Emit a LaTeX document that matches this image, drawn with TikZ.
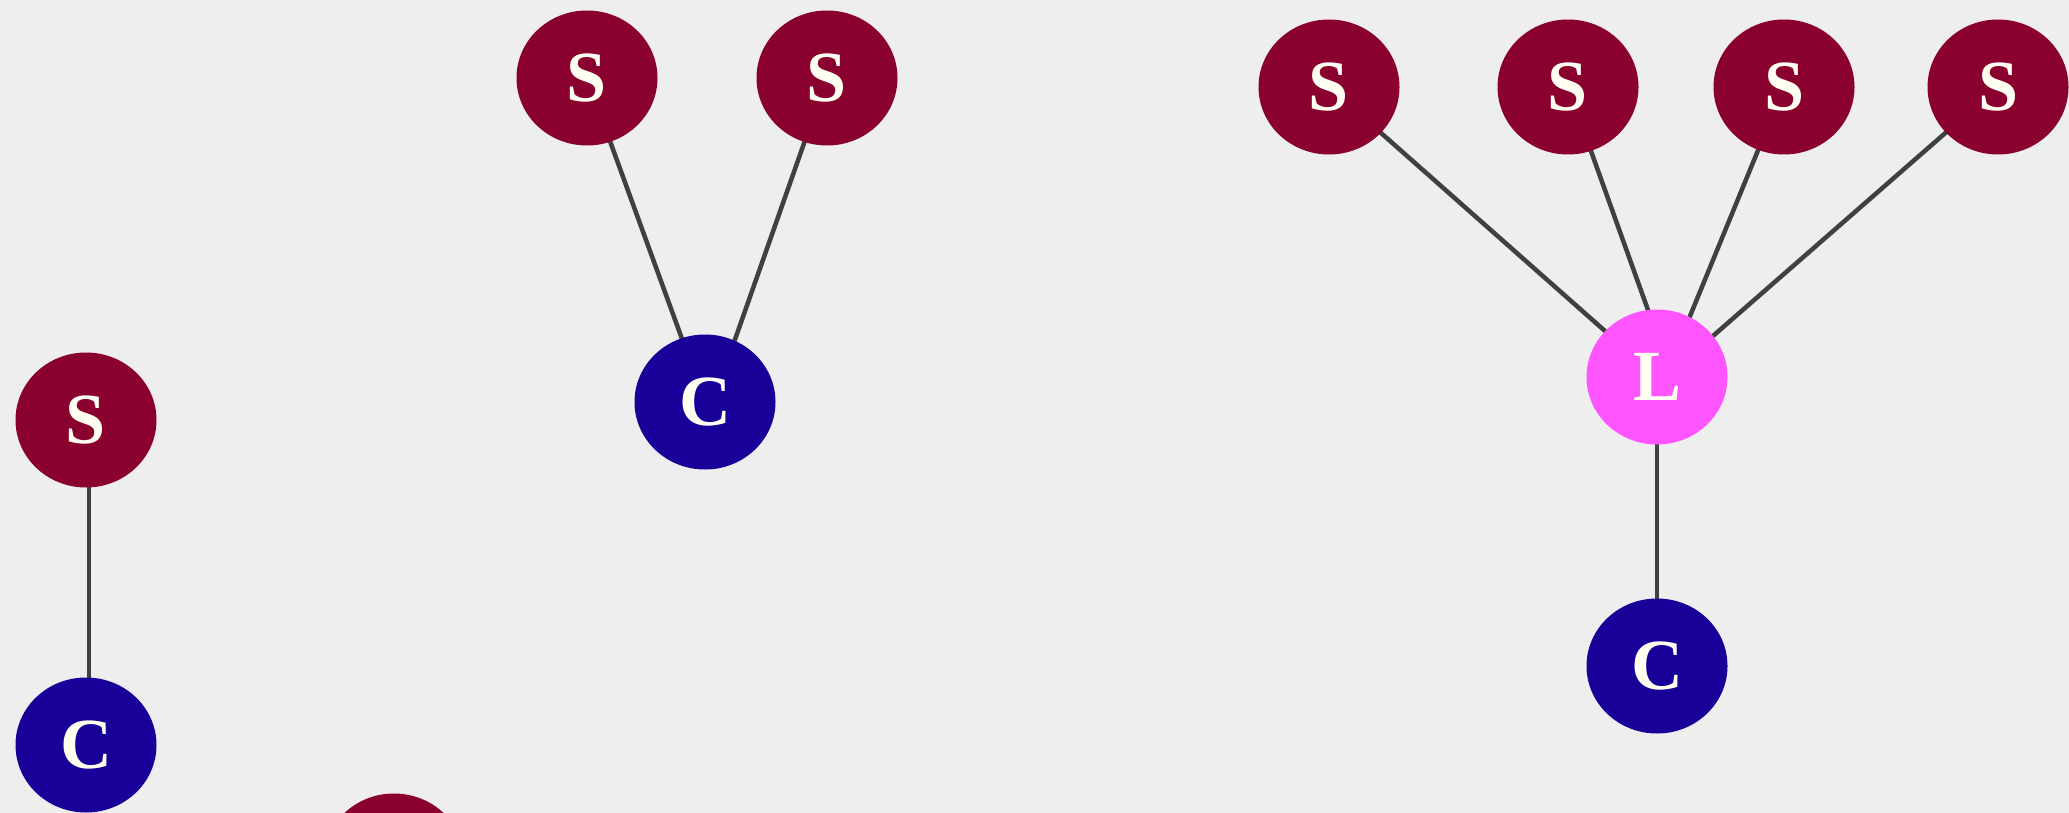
\documentclass[tikz,border=0pt]{standalone}
\usepackage{fontspec}
\newfontfamily\lblfont{Liberation Serif}[BoldFont={Liberation Serif Bold}]
\usetikzlibrary{shapes.geometric}
\pgfdeclarelayer{edges}
\pgfsetlayers{edges,main}
\definecolor{bg}{HTML}{EEEEEE}
\definecolor{scol}{HTML}{8A002F}
\definecolor{ccol}{HTML}{1A0099}
\definecolor{lcol}{HTML}{FF55FF}
\definecolor{txt}{HTML}{FFFFF2}
\definecolor{edge}{HTML}{404040}
\tikzset{
  vert/.style={ellipse, minimum width=141pt, minimum height=135pt, inner sep=0pt,
    text=txt, font=\lblfont\bfseries\fontsize{72}{72}\selectfont},
  snode/.style={vert, fill=scol},
  cnode/.style={vert, fill=ccol},
  lnode/.style={vert, fill=lcol},
  link/.style={draw=edge, line width=4.5pt}
}
\begin{document}
\begin{tikzpicture}[x=1pt,y=-1pt]
\begin{pgfonlayer}{edges}
\fill[bg] (0,0) rectangle (2069,813);
\end{pgfonlayer}
\useasboundingbox (0,0) rectangle (2069,813);
% left group
\node[snode] (s1) at (86,420) {S};
\node[cnode] (c1) at (86,745) {C};
\node[snode] (s0) at (394,861) {};
% middle group
\node[snode] (s2) at (587,78) {S};
\node[snode] (s3) at (827,78) {S};
\node[cnode] (c2) at (705,402) {C};
% right group
\node[snode] (s4) at (1329,87) {S};
\node[snode] (s5) at (1568,87) {S};
\node[snode] (s6) at (1784,87) {S};
\node[snode] (s7) at (1998,87) {S};
\node[lnode] (l1) at (1657,377) {L};
\node[cnode] (c3) at (1657,666) {C};
\begin{pgfonlayer}{edges}
\draw[link] ([xshift=3pt]s1.center) -- ([xshift=3pt]c1.center);
\draw[link] (s2.center) -- (c2.center);
\draw[link] (s3.center) -- ([xshift=8pt]c2.center);
\draw[link] (s4.center) -- (l1.center);
\draw[link] (s5.center) -- ([xshift=15pt]l1.center);
\draw[link] (s6.center) -- ([xshift=8pt]l1.center);
\draw[link] (s7.center) -- ([xshift=9pt]l1.center);
\draw[link] (l1.center) -- (c3.center);
\end{pgfonlayer}
\end{tikzpicture}
\end{document}
